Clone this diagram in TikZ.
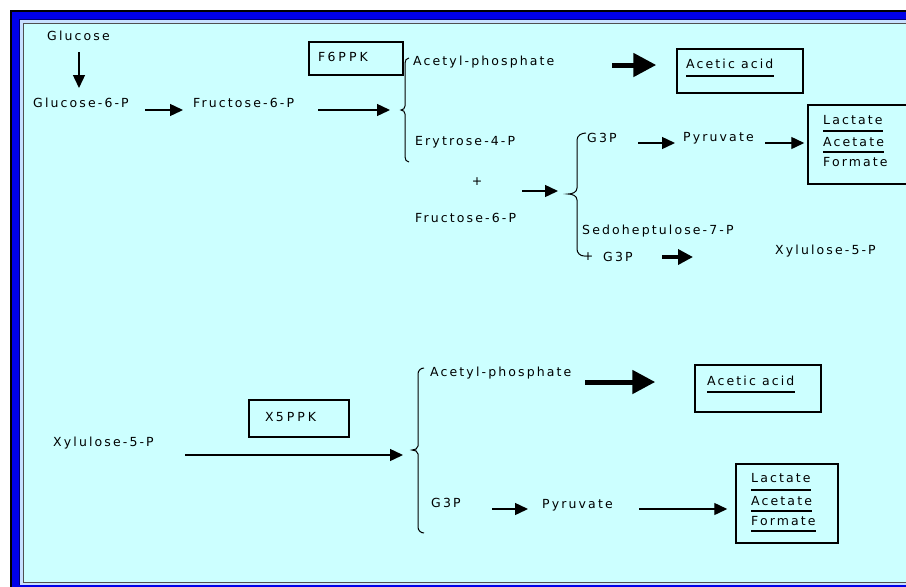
\documentclass[tikz,border=0pt]{standalone}
\usepackage{fontspec}
\setmainfont{DejaVu Sans}[LetterSpace=17]
\usetikzlibrary{arrows.meta,calc}
\definecolor{bg}{HTML}{CCFFFF}
\definecolor{frameblue}{HTML}{0000E8}
\definecolor{framedark}{HTML}{000070}
\definecolor{framelight}{HTML}{C8E0FF}
\definecolor{framegray}{HTML}{505050}
\begin{document}
\begin{tikzpicture}[x=1pt,y=-1pt,
  font=\fontsize{12.5}{14}\selectfont,
  lbl/.style={anchor=west,inner sep=0pt},
  plus/.style={inner sep=0pt},
  box/.style={draw,line width=1.5pt,inner sep=0pt},
  uline/.style={line width=1.4pt},
  thinarr/.style={line width=1.4pt,-{Triangle[length=13pt,width=12pt]}},
  midarr/.style={line width=3.5pt,-{Triangle[length=15pt,width=15pt]}},
  bigarr/.style={line width=5pt,-{Triangle[length=23pt,width=23pt]}},
  brc/.style={line width=1pt}]
\useasboundingbox (0,0) rectangle (906,587);
% frame
\fill[white] (0,0) rectangle (906,587);
\fill[black] (10,10) rectangle (920,600);
\fill[frameblue] (11.5,11.5) rectangle (920,600);
\fill[framedark] (19,19) rectangle (920,585);
\fill[framelight] (20,20) rectangle (920,584.5);
\fill[framegray] (22.5,22.5) rectangle (920,583);
\fill[bg] (24,24) rectangle (920,582);

% ---------- upper pathway ----------
\node[lbl] (glc) at (47,36) {Glucose};
\node[lbl] (g6p) at (33,103) {Glucose-6-P};
\node[lbl] (f6p) at (193,103) {Fructose-6-P};
\node[box,minimum width=94,minimum height=33] (f6ppkbox) at (356,58.5) {};
\node[lbl] (f6ppk) at (318,57) {F6\kern3pt P\kern3pt P\kern3pt K};
\node[lbl] (acp1) at (413,62) {Acetyl-phosphate};
\node[box,minimum width=126,minimum height=44] (ace1box) at (740,71) {};
\node[lbl] (ace1) at (686,64) {Acetic acid};
\node[lbl] (ery) at (415,142) {Erytrose-4-P};
\node[lbl] (g3p1) at (587,138) {G3P};
\node[lbl] (pyr1) at (683,138) {Pyruvate};
\node[box,minimum width=107,minimum height=79] (lac1box) at (861.5,144.5) {};
\node[lbl] (lac1a) at (823,120) {Lactate};
\node[lbl] (lac1b) at (823,142) {Acetate};
\node[lbl] (lac1c) at (823,162) {Formate};
\node[plus] (plus1) at (477,182) {+};
\node[lbl] (f6p2) at (415,218) {Fructose-6-P};
\node[lbl] (sed) at (582,231) {Sedoheptulose-7-P};
\node[plus] (plus2) at (588,257) {+};
\node[lbl] (g3p2) at (603,257) {G3P};
\node[lbl] (xyl1) at (775,251) {Xylulose-5-P};

\coordinate (b1tip) at (401,110);
\coordinate (b2tip) at (568,194);

% braces
\draw[brc] (409,58) to[out=180,in=90] (405,63) -- (405,106) to[out=270,in=0] (b1tip)
  to[out=0,in=90] (405,114) -- (405,157) to[out=270,in=180] (409,162);
\draw[brc] (586,133) to[out=180,in=90] (577,140) -- (577,188) to[out=270,in=0] (b2tip)
  to[out=0,in=90] (577,200) -- (577,249) to[out=270,in=180] (584,256);

% underlines
\draw[uline] (ace1.west |- 0,76) -- (ace1.east |- 0,76);
\draw[uline] (lac1a.west |- 0,131) -- (lac1a.east |- 0,131);
\draw[uline] (lac1b.west |- 0,152) -- (lac1b.east |- 0,152);

% arrows
\draw[thinarr] ($(glc.west)+(32,16)$) -- ($(g6p.west)+(46,-15)$);
\draw[thinarr] ($(g6p.west)+(112,7)$) -- ($(f6p.west)+(-10,7)$);
\draw[thinarr] ($(f6p.west)+(125,7)$) -- ($(b1tip)+(-11,0)$);
\draw[bigarr] ($(acp1.west)+(199,3)$) -- ($(ace1box.west)+(-20,-6)$);
\draw[thinarr] ($(plus1)+(45,9)$) -- ($(b2tip)+(-10,-3)$);
\draw[thinarr] ($(g3p1.west)+(51,5)$) -- ($(pyr1.west)+(-8,5)$);
\draw[thinarr] ($(pyr1.west)+(82,5)$) -- ($(lac1box.west)+(-3,-1.5)$);
\draw[midarr] ($(g3p2.west)+(59,0)$) -- ($(xyl1.west)+(-82,6)$);

% ---------- lower pathway ----------
\node[lbl] (xyl2) at (53,443) {Xylulose-5-P};
\node[box,minimum width=100,minimum height=37] (x5ppkbox) at (299,418.5) {};
\node[lbl] (x5ppk) at (265,417) {X5\kern3pt P\kern3pt P\kern3pt K};
\node[lbl] (acp2) at (430,373) {Acetyl-phosphate};
\node[box,minimum width=126,minimum height=47] (ace2box) at (758,388.5) {};
\node[lbl] (ace2) at (707,381) {Acetic acid};
\node[lbl] (g3p3) at (431,503) {G3P};
\node[lbl] (pyr2) at (542,505) {Pyruvate};
\node[box,minimum width=102,minimum height=79] (lac2box) at (787,503.5) {};
\node[lbl] (lac2a) at (751,478) {Lactate};
\node[lbl] (lac2b) at (751,501) {Acetate};
\node[lbl] (lac2c) at (751,521) {Formate};

\coordinate (b3tip) at (412,450);
\draw[brc] (424,368) to[out=180,in=90] (418,374) -- (418,446) to[out=270,in=0] (b3tip)
  to[out=0,in=90] (418,454) -- (418,527) to[out=270,in=180] (424,533);

\draw[uline] (ace2.west |- 0,392) -- (ace2.east |- 0,392);
\draw[uline] (lac2a.west |- 0,490) -- (lac2a.east |- 0,490);
\draw[uline] (lac2b.west |- 0,511) -- (lac2b.east |- 0,511);
\draw[uline] (lac2c.west |- 0,531) -- (lac2c.east |- 0,531);

\draw[thinarr] ($(xyl2.west)+(132,12)$) -- ($(b3tip)+(-9,5)$);
\draw[bigarr] ($(acp2.west)+(155,9)$) -- ($(ace2box.west)+(-39,-6.5)$);
\draw[thinarr] ($(g3p3.west)+(61,6)$) -- ($(pyr2.west)+(-14,4)$);
\draw[thinarr] ($(pyr2.west)+(97,4)$) -- ($(lac2box.west)+(-8,5.5)$);
\end{tikzpicture}
\end{document}
